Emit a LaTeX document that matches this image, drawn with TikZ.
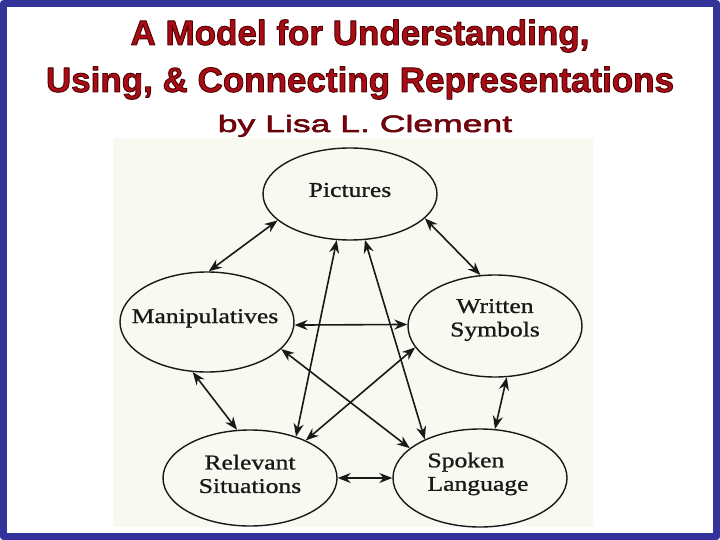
\documentclass[tikz,border=0pt]{standalone}
\usepackage{fontspec}
\setmainfont{Liberation Serif}
\newfontfamily\headfont{Liberation Sans}
\newfontfamily\byfont[FakeStretch=1.5]{Liberation Sans}
\newfontfamily\bubblefont[FakeStretch=1.22]{Liberation Serif}
\usetikzlibrary{shapes.geometric,arrows.meta}
\definecolor{frameblue}{RGB}{51,51,153}
\definecolor{titlered}{RGB}{170,12,22}
\definecolor{byred}{RGB}{125,0,12}
\definecolor{scanpaper}{RGB}{248,249,240}
\definecolor{ink}{RGB}{25,25,25}
% outlined text (fill and stroke): width, stroke colour, text
\newcommand\outlined[3]{\special{pdf:literal 2 Tr #1 w #2 RG}#3\special{pdf:literal 0 Tr 0.4 w}}
\newcommand\inked[1]{\outlined{0.22}{0.1 0.1 0.1}{#1}}
\tikzset{
  bubble/.style={ellipse, draw=ink, line width=1.4pt, minimum width=174pt, inner sep=0pt},
  txt/.style={font=\bubblefont\fontsize{21}{23.5}\selectfont, text=ink, align=center, yshift=4pt},
  head/.style={anchor=base, font=\headfont\bfseries\fontsize{35}{40}\selectfont, text=titlered},
}
\begin{document}
\begin{tikzpicture}[x=1pt, y=-1pt, line join=round, >={Stealth[length=13pt,width=10pt]}]
	\useasboundingbox (0,0) rectangle (720,540);
	\fill[white] (0,0) rectangle (720,540);
	\draw[frameblue, line width=7pt] (3.5,3.5) rectangle (716.5,536.5);
	\fill[scanpaper] (113,138) rectangle (593,527);
	% title
	\node[head] (t1) at (360,45) {\outlined{0.9}{0.3 0 0}{A Model for Understanding,}};
	\node[head] (t2) at (360,92) {\outlined{0.9}{0.3 0 0}{Using, \& Connecting Representations}};
	\node[anchor=base, font=\byfont\fontsize{23.7}{28}\selectfont, text=byred] (by) at (365,132) {\outlined{0.5}{0.3 0 0}{by Lisa L. Clement}};
	% the five representations
	\node[bubble, minimum height=92pt, label={[txt]center:\inked{Pictures}}] (pic) at (350,194) {};
	\node[bubble, minimum height=100pt, label={[txt, xshift=-2pt]center:\inked{Manipulatives}}] (man) at (207,322) {};
	\node[bubble, minimum height=102pt, label={[txt, yshift=2pt]center:\inked{Written}\\\inked{Symbols}}] (wri) at (495,326) {};
	\node[bubble, minimum height=96pt, label={[txt]center:\inked{Relevant}\\\inked{Situations}}] (rel) at (250,478) {};
	\node[bubble, minimum height=98pt, label={[txt, align=left, xshift=-2pt]center:\inked{Spoken}\\\inked{Language}}] (spo) at (480,478) {};
	% connections
	\foreach \a/\b in {pic.200/man.88, pic.342/wri.106, man.358/wri.179, man.254/rel.105,
		wri.283/spo.73, rel.0/spo.180, pic.254/rel.42, pic.288/spo.145, man.340/spo.157, wri.195/rel.34}
		\draw[<->, ink, line width=1.6pt] (\a) -- (\b);
\end{tikzpicture}
\end{document}
